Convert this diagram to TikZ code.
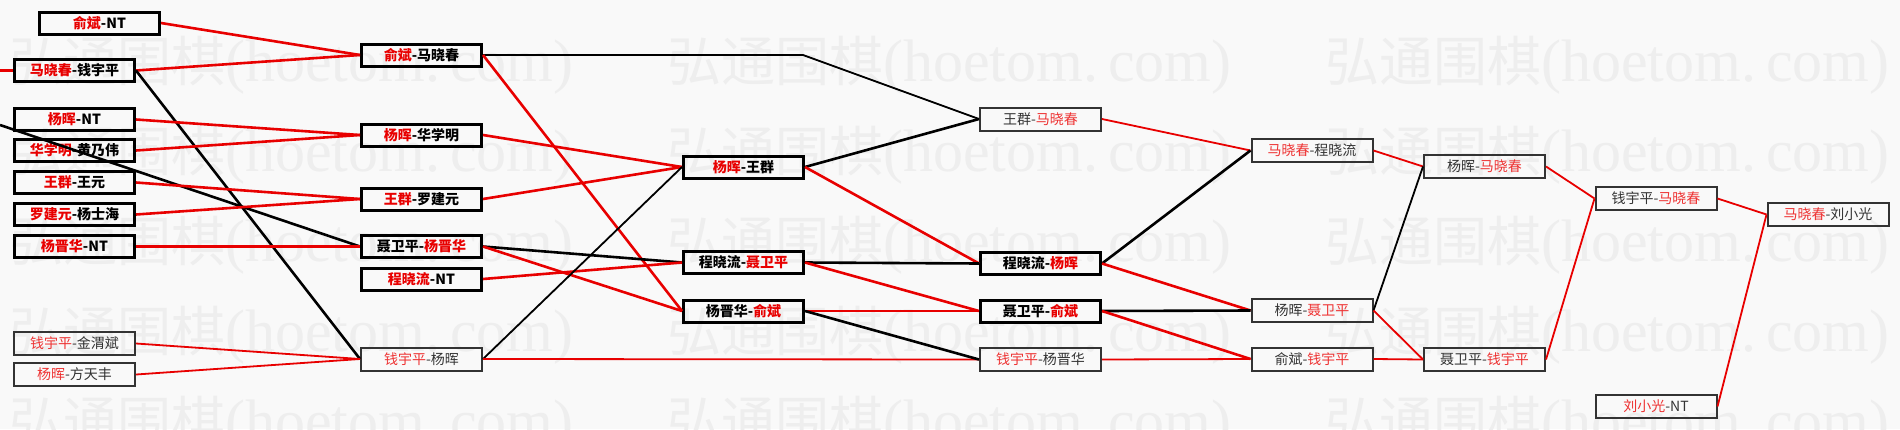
\documentclass[tikz,border=0pt]{standalone}
\usepackage{fontspec}
\setmainfont{Noto Sans CJK SC}
\newfontfamily\wmlat{Liberation Serif}
\definecolor{wred}{RGB}{232,0,0}
\definecolor{wredl}{RGB}{238,50,50}
\definecolor{bgc}{RGB}{249,249,249}
\definecolor{wmc}{RGB}{238,238,238}
\newcommand\winr[1]{\textcolor{wred}{#1}}
\newcommand\winl[1]{\textcolor{wredl}{#1}}
\tikzset{
  boxb/.style={draw=black, line width=3pt, minimum width=120pt, minimum height=22pt,
    inner sep=0pt, font=\bfseries\fontsize{14}{16}\selectfont, text=black},
  boxl/.style={draw=black!80, line width=2pt, minimum width=121pt, minimum height=23pt,
    inner sep=0pt, font=\fontsize{14}{16}\selectfont, text=black!80},
  wl/.style={draw=wred, line width=2.6pt},
  ll/.style={draw=black, line width=2.6pt},
  wlt/.style={draw=wred, line width=1.8pt},
  llt/.style={draw=black, line width=1.8pt},
  wmark/.style={anchor=west, inner sep=0pt, text=wmc, font=\fontsize{54}{56}\selectfont}
}
\begin{document}
\begin{tikzpicture}[x=1pt,y=-1pt]
\useasboundingbox (0,0) rectangle (1900,429);
\clip (0,0) rectangle (1900,429);
\fill[bgc] (0,0) rectangle (1900,429);
% watermark
\foreach \r [count=\i] in {65,155,245,335,425}{
  \foreach \c [count=\j] in {9,667,1325}{
    \node[wmark] (wm-\i-\j) at (\c,\r) {弘通围棋{\wmlat\fontsize{60}{60}\selectfont (hoetom.\,com)}};
  }
}
% column 1
\node[boxb] (a1) at (99.5,23)   {\winr{俞斌}-NT};
\node[boxb] (a2) at (74.5,70.5) {\winr{马晓春}-钱宇平};
\node[boxb] (a3) at (74.5,119.5){\winr{杨晖}-NT};
\node[boxb] (a4) at (74.5,150.5){\winr{华学明}-黄乃伟};
\node[boxb] (a5) at (74.5,182.5){\winr{王群}-王元};
\node[boxb] (a6) at (74.5,214.5){\winr{罗建元}-杨士海};
\node[boxb] (a7) at (74.5,246.5){\winr{杨晋华}-NT};
\node[boxl] (a8) at (74.5,343.5){\winl{钱宇平}-金渭斌};
\node[boxl] (a9) at (74.5,374.5){\winl{杨晖}-方天丰};
% column 2
\node[boxb] (b1) at (421.5,55)   {\winr{俞斌}-马晓春};
\node[boxb] (b2) at (421.5,135)  {\winr{杨晖}-华学明};
\node[boxb] (b3) at (421.5,199)  {\winr{王群}-罗建元};
\node[boxb] (b4) at (421.5,246.5){聂卫平-\winr{杨晋华}};
\node[boxb] (b5) at (421.5,279)  {\winr{程晓流}-NT};
\node[boxl] (b6) at (421.5,359)  {\winl{钱宇平}-杨晖};
% column 3
\node[boxb] (c1) at (743.5,167)  {\winr{杨晖}-王群};
\node[boxb] (c2) at (743.5,262.5){程晓流-\winr{聂卫平}};
\node[boxb] (c3) at (743.5,311)  {杨晋华-\winr{俞斌}};
% column 4
\node[boxl] (d1) at (1040.5,119)  {王群-\winl{马晓春}};
\node[boxb] (d2) at (1040.5,263.5){程晓流-\winr{杨晖}};
\node[boxb] (d3) at (1040.5,311)  {聂卫平-\winr{俞斌}};
\node[boxl] (d4) at (1040.5,359.5){\winl{钱宇平}-杨晋华};
% column 5
\node[boxl] (e1) at (1312,150.5){\winl{马晓春}-程晓流};
\node[boxl] (e2) at (1312,310.5){杨晖-\winl{聂卫平}};
\node[boxl] (e3) at (1312,359)  {俞斌-\winl{钱宇平}};
% column 6
\node[boxl] (f1) at (1484.5,166.5){杨晖-\winl{马晓春}};
\node[boxl] (f2) at (1484.5,359.5){聂卫平-\winl{钱宇平}};
% column 7
\node[boxl] (g1) at (1656,198.5){钱宇平-\winl{马晓春}};
\node[boxl] (g2) at (1656,406.5){\winl{刘小光}-NT};
% column 8
\node[boxl] (h1) at (1828,214.5){\winl{马晓春}-刘小光};
% helper points
\coordinate (s1) at (0,70.5);
\coordinate (s2) at (0,125);
\coordinate (k1) at (683,55);
\coordinate (k2) at (803,55);
% connectors
\draw[wl] (s1) -- (a2.west);
\draw[ll] (s2) -- (b4.west);
\draw[wl] (a1.east) -- (b1.west);
\draw[wl] (a2.east) -- (b1.west);
\draw[ll] (a2.east) -- (b6.west);
\draw[wl] (a3.east) -- (b2.west);
\draw[wl] (a4.east) -- (b2.west);
\draw[wl] (a5.east) -- (b3.west);
\draw[wl] (a6.east) -- (b3.west);
\draw[wl] (a7.east) -- (b4.west);
\draw[wlt] (a8.east) -- (b6.west);
\draw[wlt] (a9.east) -- (b6.west);
\draw[ll] (b1.east) -- (k1);
\draw[llt] (k1) -- (k2) -- (d1.west);
\draw[wl] (b1.east) -- (c3.west);
\draw[wl] (b2.east) -- (c1.west);
\draw[wl] (b3.east) -- (c1.west);
\draw[ll] (b4.east) -- (c2.west);
\draw[wl] (b4.east) -- (c3.west);
\draw[wl] (b5.east) -- (c2.west);
\draw[llt] (b6.east) -- (c1.west);
\draw[wlt] (b6.east) -- (d4.west);
\draw[ll] (c1.east) -- (d1.west);
\draw[wl] (c1.east) -- (d2.west);
\draw[ll] (c2.east) -- (d2.west);
\draw[wl] (c2.east) -- (d3.west);
\draw[wl] (c3.east) -- (d3.west);
\draw[ll] (c3.east) -- (d4.west);
\draw[wlt] (d1.east) -- (e1.west);
\draw[ll] (d2.east) -- (e1.west);
\draw[wl] (d2.east) -- (e2.west);
\draw[ll] (d3.east) -- (e2.west);
\draw[wl] (d3.east) -- (e3.west);
\draw[wlt] (d4.east) -- (e3.west);
\draw[wlt] (e1.east) -- (f1.west);
\draw[llt] (e2.east) -- (f1.west);
\draw[wlt] (e2.east) -- (f2.west);
\draw[wlt] (e3.east) -- (f2.west);
\draw[wlt] (f1.east) -- (g1.west);
\draw[wlt] (f2.east) -- (g1.west);
\draw[wlt] (g1.east) -- (h1.west);
\draw[wlt] (g2.east) -- (h1.west);
\end{tikzpicture}
\end{document}
